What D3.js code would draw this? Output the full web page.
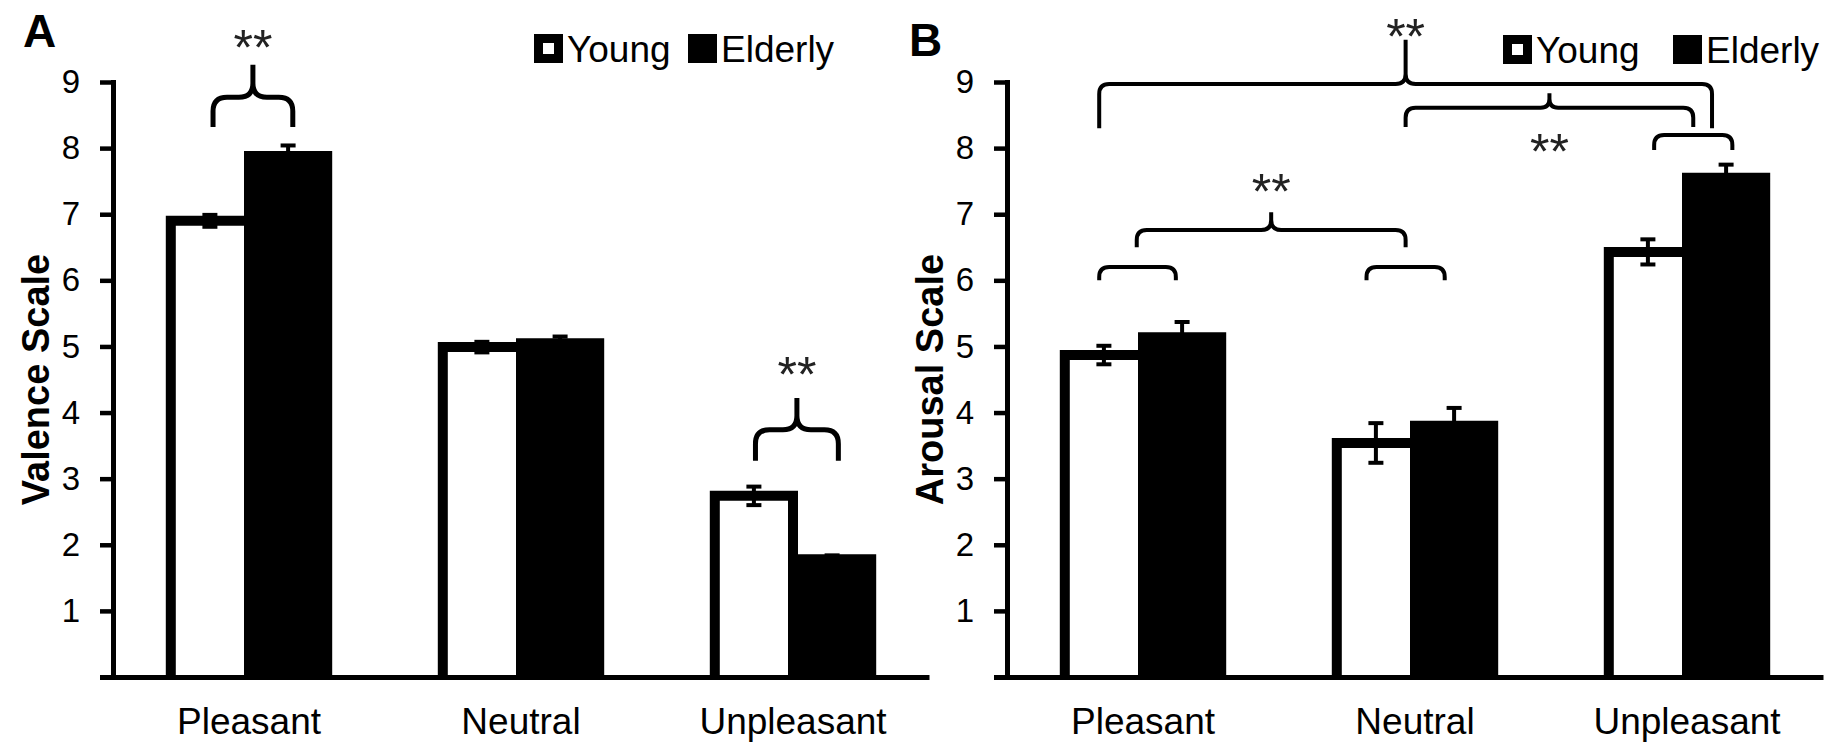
<!DOCTYPE html>
<html>
<head>
<meta charset="utf-8">
<script src="https://cdn.jsdelivr.net/npm/d3@7"></script>
<style>
  body { margin: 0; background: #fff; }
  svg text { font-family: "Liberation Sans", Arial, sans-serif; fill: #000; }
</style>
</head>
<body>
<div id="chart"></div>
<script>
// data
const categories = ["Pleasant", "Neutral", "Unpleasant"];
const groups = ["Young", "Elderly"];
const yTicks = [0, 1, 2, 3, 4, 5, 6, 7, 8, 9];

const valenceYoung = [6.90, 4.99, 2.74];
const valenceElderly = [7.88, 5.05, 1.78];
const valenceYoungErr = [0.09, 0.08, 0.14];
const valenceElderlyErr = [0.16, 0.10, 0.06];

const arousalYoung = [4.87, 3.54, 6.43];
const arousalElderly = [5.14, 3.80, 7.55];
const arousalYoungErr = [0.14, 0.30, 0.19];
const arousalElderlyErr = [0.23, 0.27, 0.20];

// significance brackets: ends given as [category, fraction of the group band], heights in scale units
const valenceBrackets = [
  { from: ["Pleasant", 0.27], to: ["Pleasant", 0.78], line: 8.77, end: 8.32, spike: 9.26, label: "**", labelAt: 9.70 },
  { from: ["Unpleasant", 0.26], to: ["Unpleasant", 0.79], line: 3.74, end: 3.27, spike: 4.22, label: "**", labelAt: 4.76 }
];
const arousalBrackets = [
  { from: ["Pleasant", 0.22], to: ["Pleasant", 0.71], line: 6.20, end: 6.00 },
  { from: ["Neutral", 0.19], to: ["Neutral", 0.69], line: 6.20, end: 6.00 },
  { from: ["Pleasant", 0.46], to: ["Neutral", 0.44], line: 6.76, end: 6.50, spike: 7.03, label: "**", labelAt: 7.52 },
  { from: ["Unpleasant", 0.29], to: ["Unpleasant", 0.79], line: 8.20, end: 7.97 },
  { from: ["Neutral", 0.44], to: ["Unpleasant", 0.54], line: 8.61, end: 8.32, spike: 8.83, label: "**", labelAt: 8.12 },
  { from: ["Pleasant", 0.22], to: ["Unpleasant", 0.66], line: 8.97, end: 8.30, spike: 9.64, label: "**", labelAt: 9.86 }
];

const svgWidth = 1844;
const svgHeight = 746;

const svg = d3.select("#chart")
  .append("svg")
  .attr("width", svgWidth)
  .attr("height", svgHeight);

svg.append("rect")
  .attr("width", svgWidth)
  .attr("height", svgHeight)
  .attr("fill", "#fff");

const plotWidth = 816;
const starSize = 50;
const yScale = d3.scaleLinear().domain([0, 9]).range([677, 82]);

function bracketPath(x1, x2, yLine, yEnd, ySpike, r) {
  const xm = (x1 + x2) / 2;
  let p = `M${x1},${yEnd} L${x1},${yLine + r} Q${x1},${yLine} ${x1 + r},${yLine}`;
  if (ySpike != null) {
    const rs = Math.min(r, (yLine - ySpike) * 0.6);
    p += ` L${xm - rs},${yLine} Q${xm},${yLine} ${xm},${yLine - rs} L${xm},${ySpike}`;
    p += ` M${xm},${yLine - rs} Q${xm},${yLine} ${xm + rs},${yLine}`;
  }
  p += ` L${x2 - r},${yLine} Q${x2},${yLine} ${x2},${yLine + r} L${x2},${yEnd}`;
  return p;
}

function drawPanel(opt) {
  const left = opt.left;
  const g = svg.append("g");

  const x0 = d3.scaleBand()
    .domain(categories)
    .range([left, left + plotWidth])
    .paddingInner(0.425)
    .paddingOuter(0.2125);

  const x1 = d3.scaleBand()
    .domain(groups)
    .range([0, x0.bandwidth()]);

  const rows = categories.map((c, i) => ({
    cat: c,
    vals: [
      { grp: "Young", v: opt.young[i], e: opt.youngErr[i] },
      { grp: "Elderly", v: opt.elderly[i], e: opt.elderlyErr[i] }
    ]
  }));

  // bars (open at the bottom, the axis closes them)
  const bars = g.selectAll(".cat")
    .data(rows)
    .enter()
    .append("g")
    .attr("class", "cat");

  bars.selectAll("path")
    .data(d => d.vals.map(v => Object.assign({ cat: d.cat }, v)))
    .enter()
    .append("path")
    .attr("d", d => {
      const xa = x0(d.cat) + x1(d.grp);
      const xb = xa + x1.bandwidth();
      return `M${xa},${yScale(0)} V${yScale(d.v)} H${xb} V${yScale(0)}`;
    })
    .attr("fill", d => d.grp === "Young" ? "#fff" : "#000")
    .attr("stroke", "#000")
    .attr("stroke-width", 10)
    .attr("stroke-linejoin", "miter");

  // error bars
  const err = bars.selectAll(".err")
    .data(d => d.vals.map(v => Object.assign({ cat: d.cat }, v)))
    .enter()
    .append("g")
    .attr("class", "err")
    .attr("stroke", "#000")
    .attr("stroke-width", 4);

  const cx = d => x0(d.cat) + x1(d.grp) + x1.bandwidth() / 2;
  err.append("line")
    .attr("x1", cx).attr("x2", cx)
    .attr("y1", d => yScale(d.v - d.e))
    .attr("y2", d => yScale(d.v + d.e));
  err.append("line")
    .attr("x1", d => cx(d) - 7.5).attr("x2", d => cx(d) + 7.5)
    .attr("y1", d => yScale(d.v + d.e))
    .attr("y2", d => yScale(d.v + d.e));
  err.append("line")
    .attr("x1", d => cx(d) - 7.5).attr("x2", d => cx(d) + 7.5)
    .attr("y1", d => yScale(d.v - d.e))
    .attr("y2", d => yScale(d.v - d.e));

  // x axis
  const xAxis = g.append("g")
    .attr("transform", `translate(0, ${yScale(0)})`)
    .call(d3.axisBottom(x0).tickSize(0).tickSizeOuter(0).tickPadding(31));
  xAxis.select(".domain").attr("stroke", "#000").attr("stroke-width", 5);
  xAxis.selectAll("text")
    .style("font-size", "37px")
    .attr("fill", "#000");

  // y axis, the tick at 0 carries the axis line to the left
  const yAxis = g.append("g")
    .attr("transform", `translate(${left}, 0)`)
    .call(d3.axisLeft(yScale)
      .tickValues(yTicks)
      .tickSize(13)
      .tickSizeOuter(0)
      .tickPadding(20)
      .tickFormat(d => d === 0 ? "" : d));
  yAxis.select(".domain")
    .attr("stroke", "#000")
    .attr("stroke-width", 5)
    .attr("stroke-linecap", "square");
  yAxis.selectAll(".tick line")
    .attr("stroke", "#000")
    .attr("stroke-width", d => d === 0 ? 5 : 4.5);
  yAxis.selectAll("text")
    .style("font-size", "33px")
    .attr("fill", "#000");

  // axis title
  g.append("text")
    .attr("transform", `translate(${left - 64}, ${(yScale(0) + yScale(9)) / 2}) rotate(-90)`)
    .attr("text-anchor", "middle")
    .style("font-size", "38px")
    .style("font-weight", "bold")
    .text(opt.title);

  // panel letter
  g.append("text")
    .attr("x", opt.letterX)
    .attr("y", opt.letterY)
    .style("font-size", "46px")
    .style("font-weight", "bold")
    .text(opt.letter);

  // brackets
  const bx = a => x0(a[0]) + a[1] * x0.bandwidth();
  g.selectAll(".bracket")
    .data(opt.brackets)
    .enter()
    .append("path")
    .attr("class", "bracket")
    .attr("d", d => bracketPath(bx(d.from), bx(d.to), yScale(d.line), yScale(d.end),
      d.spike != null ? yScale(d.spike) : null, opt.bracketRadius))
    .attr("fill", "none")
    .attr("stroke", "#000")
    .attr("stroke-width", opt.bracketWidth);

  g.selectAll(".stars")
    .data(opt.brackets.filter(d => d.label))
    .enter()
    .append("text")
    .attr("class", "stars")
    .attr("x", d => (bx(d.from) + bx(d.to)) / 2)
    .attr("y", d => yScale(d.labelAt) + 0.585 * starSize)
    .attr("text-anchor", "middle")
    .style("font-size", starSize + "px")
    .style("fill", "#222")
    .text(d => d.label);

  // legend
  const legend = g.append("g");
  groups.forEach((grp, i) => {
    const lx = opt.legendX + i * opt.legendGap;
    legend.append("rect")
      .attr("x", lx + 4.5)
      .attr("y", opt.legendY + 4.5)
      .attr("width", 20)
      .attr("height", 20)
      .attr("fill", grp === "Young" ? "#fff" : "#000")
      .attr("stroke", "#000")
      .attr("stroke-width", 9);
    legend.append("text")
      .attr("x", lx + 33)
      .attr("y", opt.legendY + 28)
      .style("font-size", "37px")
      .text(grp);
  });
}

drawPanel({
  left: 113,
  young: valenceYoung, elderly: valenceElderly,
  youngErr: valenceYoungErr, elderlyErr: valenceElderlyErr,
  title: "Valence Scale",
  letter: "A", letterX: 23, letterY: 47,
  brackets: valenceBrackets, bracketRadius: 14, bracketWidth: 5,
  legendX: 534, legendGap: 154, legendY: 34
});

drawPanel({
  left: 1007,
  young: arousalYoung, elderly: arousalElderly,
  youngErr: arousalYoungErr, elderlyErr: arousalElderlyErr,
  title: "Arousal Scale",
  letter: "B", letterX: 909, letterY: 56,
  brackets: arousalBrackets, bracketRadius: 10, bracketWidth: 4,
  legendX: 1503, legendGap: 170, legendY: 35
});
</script>
</body>
</html>
